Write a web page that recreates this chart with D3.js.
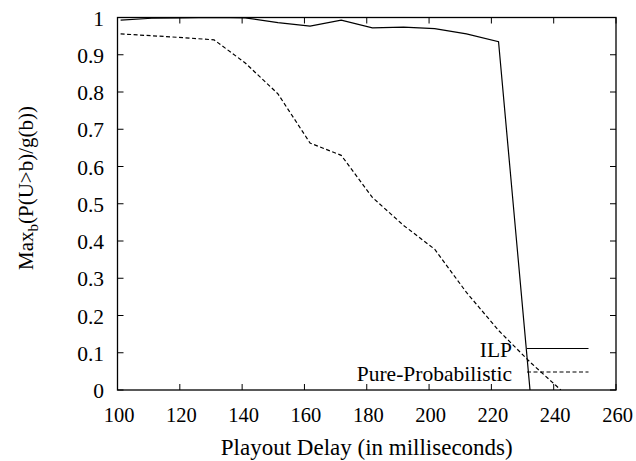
<!DOCTYPE html>
<html>
<head>
<meta charset="utf-8">
<script src="https://cdn.jsdelivr.net/npm/d3@7"></script>
<style>
  body { margin: 0; background: #fff; }
  svg { display: block; }
</style>
</head>
<body>
<svg id="chart" width="636" height="461"></svg>
<script>
// Data
const delays = [101, 111, 121, 131, 141, 151.5, 161.8, 171.8, 181.8, 191.8, 201.8, 212, 222.3, 232.4, 242.3];
const ilp = [0.993, 0.998, 0.999, 1.0, 0.999, 0.986, 0.977, 0.993, 0.972, 0.974, 0.970, 0.956, 0.935, 0, null];
const pureProb = [0.956, 0.951, 0.946, 0.940, 0.878, 0.795, 0.663, 0.630, 0.517, 0.442, 0.378, 0.262, 0.160, 0.075, 0];
const xTicks = [100, 120, 140, 160, 180, 200, 220, 240, 260];
const yTicks = [0, 0.1, 0.2, 0.3, 0.4, 0.5, 0.6, 0.7, 0.8, 0.9, 1];

const series = [
  { name: "ILP", values: ilp, dash: null },
  { name: "Pure-Probabilistic", values: pureProb, dash: "4,2.5" }
];

const svg = d3.select("#chart")
  .attr("font-family", "'Liberation Serif', 'Times New Roman', Times, 'DejaVu Serif', serif");
const plotLeft = 117.5, plotRight = 616, plotTop = 17.5, plotBottom = 390;

const x = d3.scaleLinear().domain([100, 260]).range([plotLeft, plotRight]);
const y = d3.scaleLinear().domain([0, 1]).range([plotBottom, plotTop]);

// Clip to plot area
svg.append("clipPath").attr("id", "plotclip")
  .append("rect").attr("x", plotLeft).attr("y", plotTop)
  .attr("width", plotRight - plotLeft).attr("height", plotBottom - plotTop);

// Inward ticks on all four sides
const tickLen = 6;
const ticks = svg.append("g").attr("stroke", "#000").attr("stroke-width", 1);
xTicks.forEach(t => {
  ticks.append("line").attr("x1", x(t)).attr("x2", x(t)).attr("y1", plotBottom).attr("y2", plotBottom - tickLen);
  ticks.append("line").attr("x1", x(t)).attr("x2", x(t)).attr("y1", plotTop).attr("y2", plotTop + tickLen);
});
yTicks.forEach(t => {
  ticks.append("line").attr("x1", plotLeft).attr("x2", plotLeft + tickLen).attr("y1", y(t)).attr("y2", y(t));
  ticks.append("line").attr("x1", plotRight).attr("x2", plotRight - tickLen).attr("y1", y(t)).attr("y2", y(t));
});

// Tick labels
svg.append("g").selectAll("text").data(xTicks).join("text")
  .attr("x", d => x(d) + 1.5).attr("y", 421.5)
  .attr("text-anchor", "middle").attr("font-size", 20.5)
  .text(d => d);
svg.append("g").selectAll("text").data(yTicks).join("text")
  .attr("x", 104).attr("y", d => y(d) + 8)
  .attr("text-anchor", "end").attr("font-size", 21.5)
  .text(d => d);

// Lines
const line = d3.line()
  .defined(d => d[1] != null)
  .x(d => x(d[0])).y(d => y(d[1]));

const plot = svg.append("g").attr("clip-path", "url(#plotclip)");
series.forEach(s => {
  plot.append("path")
    .datum(delays.map((d, i) => [d, s.values[i]]))
    .attr("d", line)
    .attr("fill", "none")
    .attr("stroke", "#000")
    .attr("stroke-width", 1.2)
    .attr("stroke-dasharray", s.dash);
});

// Frame
svg.append("rect").attr("x", plotLeft).attr("y", plotTop)
  .attr("width", plotRight - plotLeft).attr("height", plotBottom - plotTop)
  .attr("fill", "none").attr("stroke", "#000").attr("stroke-width", 1.3);

// Legend
const legendY = [348.5, 372];
series.forEach((s, i) => {
  svg.append("text").attr("x", 512).attr("y", legendY[i] + 8.5)
    .attr("text-anchor", "end").attr("font-size", 21.5).text(s.name);
  svg.append("line").attr("x1", 527).attr("x2", 588.5)
    .attr("y1", legendY[i]).attr("y2", legendY[i])
    .attr("stroke", "#000").attr("stroke-width", 1.2)
    .attr("stroke-dasharray", s.dash);
});

// Axis titles
svg.append("text").attr("x", (plotLeft + plotRight) / 2).attr("y", 455)
  .attr("text-anchor", "middle").attr("font-size", 23)
  .text("Playout Delay (in milliseconds)");

const yt = svg.append("text")
  .attr("transform", "translate(33,188) rotate(-90)")
  .attr("text-anchor", "middle").attr("font-size", 21);
yt.append("tspan").text("Max");
yt.append("tspan").attr("font-size", 15).attr("dy", 5).text("b");
yt.append("tspan").attr("dy", -5).text("(P(U>b)/g(b))");
</script>
</body>
</html>
